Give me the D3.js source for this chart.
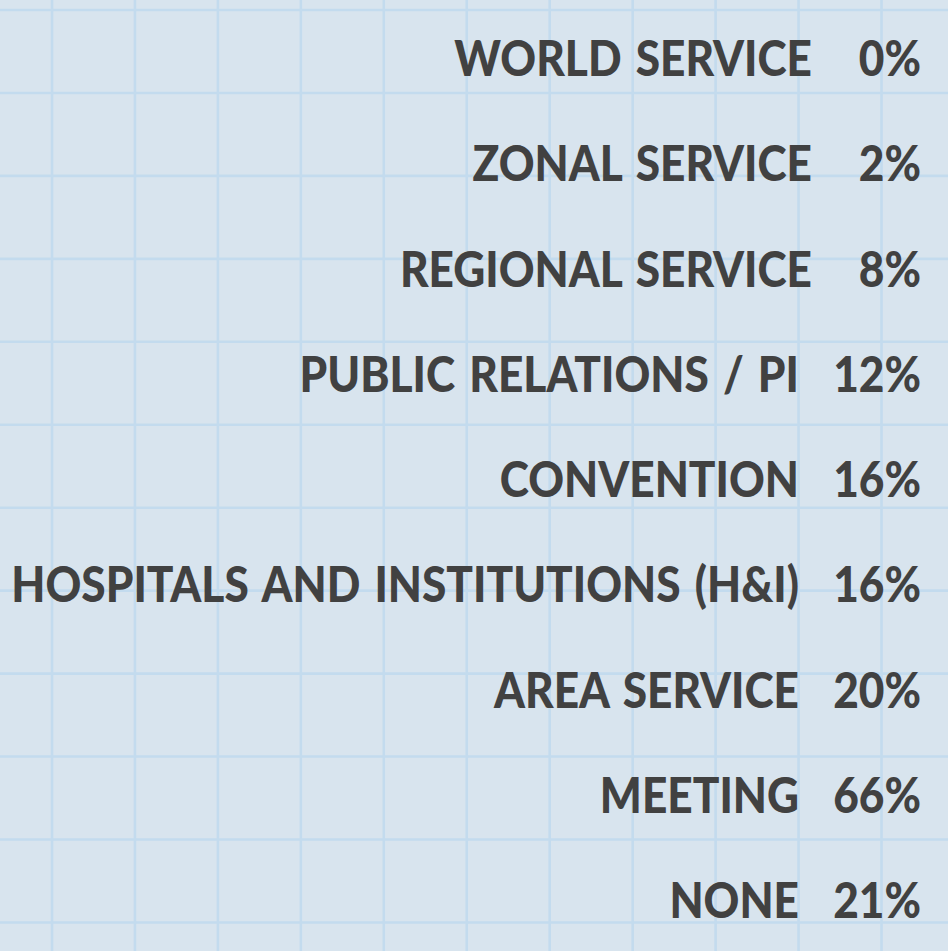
<!DOCTYPE html>
<html>
<head>
<meta charset="utf-8">
<script src="https://cdn.jsdelivr.net/npm/d3@7"></script>
<style>
  html, body { margin: 0; padding: 0; background: #d8e4ee; }
  svg { display: block; }
</style>
</head>
<body>
<svg id="chart" width="948" height="951"></svg>
<script>
const categories = [
  "WORLD SERVICE",
  "ZONAL SERVICE",
  "REGIONAL SERVICE",
  "PUBLIC RELATIONS / PI",
  "CONVENTION",
  "HOSPITALS AND INSTITUTIONS (H&I)",
  "AREA SERVICE",
  "MEETING",
  "NONE"
];
const values = [0, 2, 8, 12, 16, 16, 20, 66, 21];

const W = 948, H = 951;
const svg = d3.select("#chart");

// background
svg.append("rect").attr("width", W).attr("height", H).attr("fill", "#d8e4ee");

// graph-paper grid
const defs = svg.append("defs");
defs.append("filter").attr("id", "soft")
  .append("feGaussianBlur").attr("stdDeviation", 0.6);
const grid = svg.append("g").attr("filter", "url(#soft)")
  .attr("stroke", "#c3dbee").attr("stroke-width", 2.6);
const step = 82.95;
grid.selectAll("line.v").data(d3.range(52, W + 1, step)).join("line")
  .attr("class", "v").attr("x1", d => d).attr("x2", d => d)
  .attr("y1", 0).attr("y2", H);
grid.selectAll("line.h").data(d3.range(10, H + 1, step)).join("line")
  .attr("class", "h").attr("y1", d => d).attr("y2", d => d)
  .attr("x1", 0).attr("x2", W);

// rows
const y = d3.scalePoint().domain(categories).range([76, 918.3]);
const fontSize = 49;
const textColor = "#414141";
const pctRight = 921;
const family = "Lato, 'DejaVu Sans', sans-serif";

const rows = svg.append("g").selectAll("g.row")
  .data(categories.map((c, i) => ({ label: c, value: values[i] })))
  .join("g").attr("class", "row")
  .attr("transform", d => `translate(0,${y(d.label)})`);

function styleText(sel) {
  sel.attr("text-anchor", "end")
    .attr("font-family", family)
    .attr("font-weight", 900)
    .attr("font-size", fontSize)
    .attr("word-spacing", 4)
    .attr("fill", textColor);
}

const lbl = rows.append("text").call(styleText).text(d => d.label);
const pct = rows.append("text").call(styleText).text(d => d.value + "%");

// horizontal scale so the longest label spans the same width as the reference
let maxW = 0;
lbl.each(function() { maxW = Math.max(maxW, this.getComputedTextLength()); });
const sx = 788 / maxW;

lbl.attr("transform", d => `translate(${d.value >= 10 ? 799 : 812},0) scale(${sx},1)`);
pct.attr("transform", `translate(${pctRight},0) scale(${sx},1)`);
</script>
</body>
</html>
